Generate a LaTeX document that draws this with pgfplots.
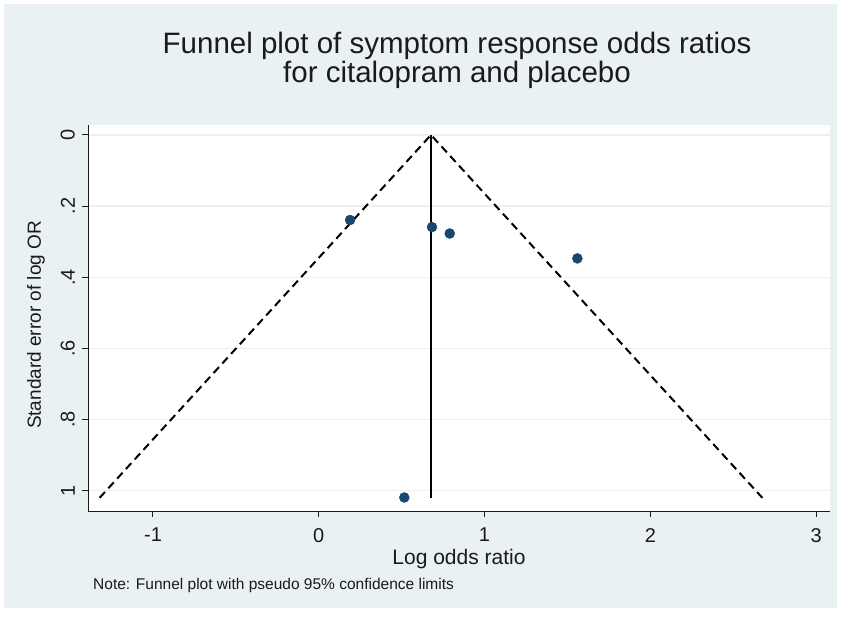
\documentclass[border=0pt]{standalone}
\usepackage{pgfplots}
\pgfplotsset{compat=1.18}
\usepackage{fontspec}
\setmainfont{Liberation Sans}
\definecolor{bgblue}{HTML}{EAF1F3}
\definecolor{gridc}{HTML}{EAF1F3}
\definecolor{navy}{HTML}{1A476F}
\definecolor{txt}{HTML}{1A1A1A}
\begin{document}
\begin{tikzpicture}
\fill[white] (-88pt,-109pt) rectangle (762pt,511pt);
\fill[bgblue] (-84pt,-97pt) rectangle (749pt,507pt);
\begin{axis}[
  at={(0pt,0pt)}, anchor=south west,
  scale only axis, width=742pt, height=386pt,
  xmin=-1.392, xmax=3.084, ymin=-0.028, ymax=1.057,
  y dir=reverse,
  axis background/.style={fill=white},
  axis x line*=bottom, axis y line*=left,
  axis line style={txt, line width=1pt, -},
  xtick={-1,0,1,2,3},
  ytick={0,0.2,0.4,0.6,0.8,1},
  yticklabels={0,.2,.4,.6,.8,1},
  tick align=outside, major tick length=6pt,
  tick style={txt, line width=1pt},
  ymajorgrids, grid style={gridc, line width=1.5pt},
  /pgf/number format/assume math mode=true,
  xticklabel shift=11pt,
  yticklabel shift=7pt,
  xticklabel style={font=\fontsize{20}{20}\selectfont, text=txt, anchor=north, inner sep=0pt},
  yticklabel style={font=\fontsize{20}{20}\selectfont, text=txt, rotate=90, anchor=south, inner sep=0pt},
  xlabel={Log odds ratio},
  xlabel style={at={(axis description cs:0.5,0)}, anchor=base, yshift=-53pt, inner sep=0pt, font=\fontsize{21}{21}\selectfont, text=txt},
  ylabel={Standard error of log OR},
  ylabel style={at={(axis description cs:-0.0580,0.482)}, anchor=south, inner sep=0pt, font=\fontsize{19}{19}\selectfont, text=txt},
  clip=false,
]
\addplot[black, line width=2pt, dash pattern=on 8pt off 5pt] coordinates {(-1.322,1.02) (0.677,0) (2.676,1.02)};
\addplot[black, line width=2.5pt] coordinates {(0.677,0) (0.677,1.02)};
\addplot[only marks, mark=*, mark size=5pt, color=navy] coordinates {
(0.189,0.239)
(0.683,0.259)
(0.790,0.277)
(1.560,0.347)
(0.516,1.019)
};
\end{axis}
\node[anchor=north, align=center, inner sep=0pt, text=txt, font=\fontsize{29.5}{29}\selectfont] at (369pt,479pt) {Funnel plot of symptom response odds ratios\\for citalopram and placebo};
\node[anchor=base west, inner sep=0pt, text=txt, font=\fontsize{15.5}{16}\selectfont] at (5pt,-78pt) {Note: Funnel plot with pseudo 95\% confidence limits};
\end{tikzpicture}
\end{document}
